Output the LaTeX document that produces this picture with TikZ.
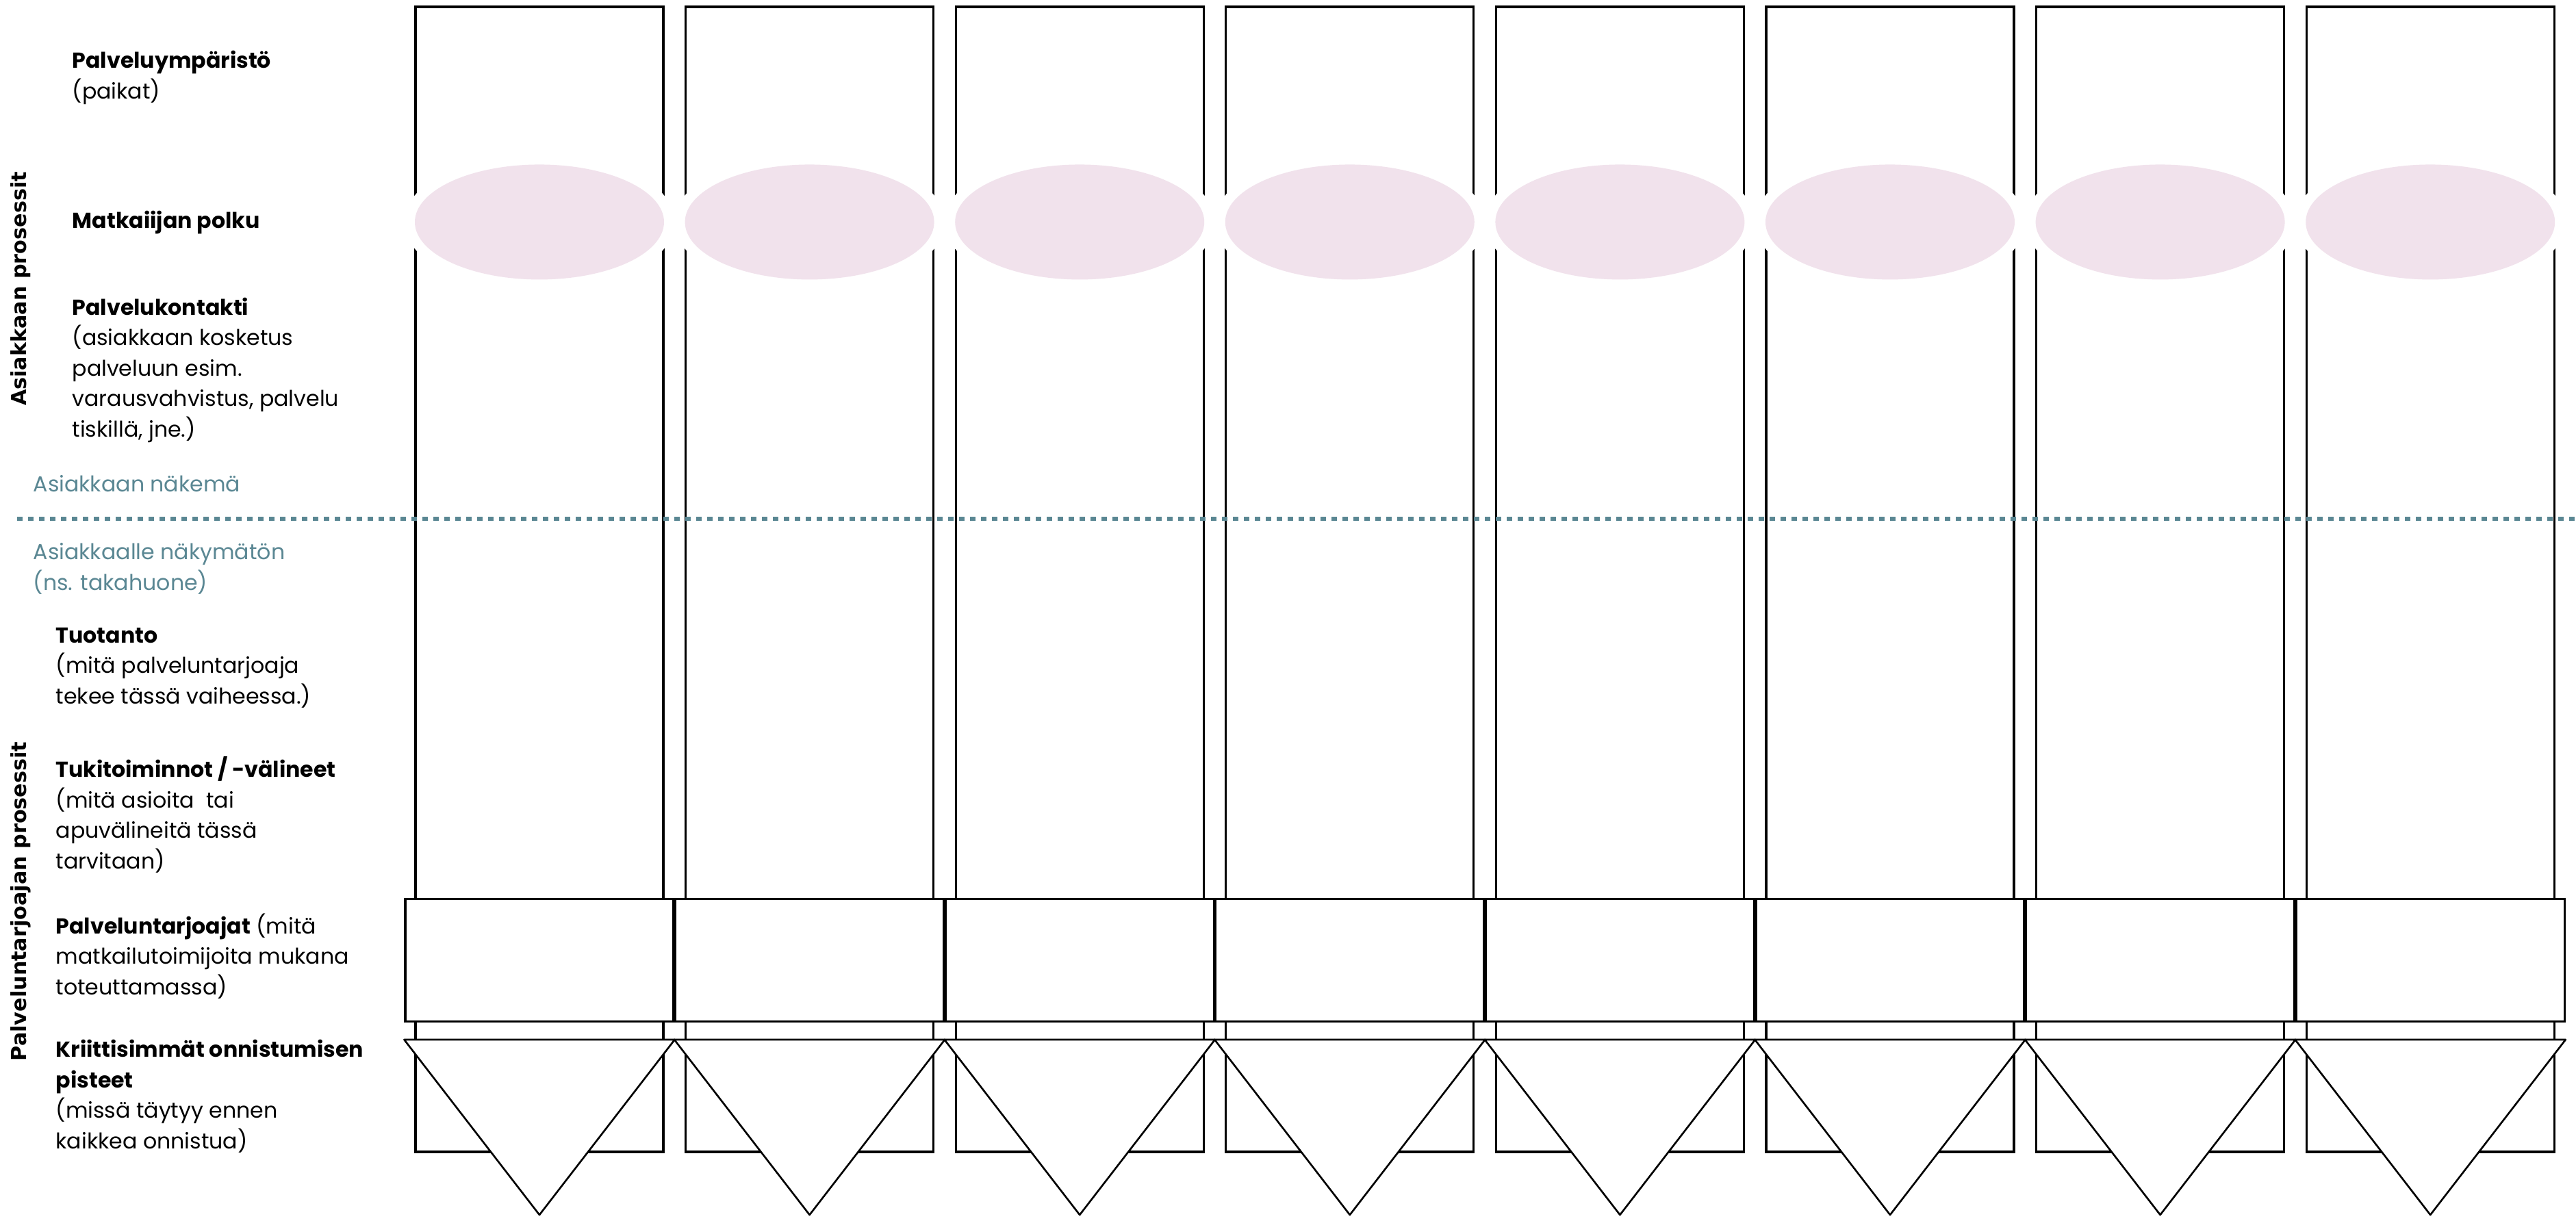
\documentclass[tikz,border=0pt]{standalone}
\usepackage{fontspec}
\setmainfont{Poppins}
\newfontfamily\sidefont{DejaVu Sans}
\usetikzlibrary{shapes.geometric,positioning}
\definecolor{journeypink}{HTML}{F1E2EC}
\definecolor{lineteal}{HTML}{5A8793}

\begin{document}
\begin{tikzpicture}[
    lane/.style={draw=black, line width=0.9pt, minimum width=3.62cm, minimum height=16.73cm, inner sep=0pt},
    journey/.style={ellipse, fill=journeypink, preaction={draw=white, line width=3mm}, minimum width=3.64cm, minimum height=1.68cm, inner sep=0pt},
    providerbox/.style={draw=black, fill=white, line width=0.9pt, minimum width=3.92cm, minimum height=1.79cm, inner sep=0pt},
    critpoint/.style={draw=black, fill=white, line width=0.75pt, line join=round},
    rowlabel/.style={anchor=base west, align=left, inner sep=0pt, font=\fontsize{9}{12.65}\selectfont},
    seenlabel/.style={rowlabel, text=lineteal},
    sidelabel/.style={rotate=90, anchor=base, inner sep=0pt, font=\fontsize{8.6}{10}\selectfont\sidefont\bfseries},
    lineofsight/.style={lineteal, line width=0.06cm, dash pattern=on 0.08cm off 0.08cm}
]
\useasboundingbox (0,0) rectangle (37.63,-17.83);

% Vertical lanes, one per step of the journey
\foreach \i in {1,...,8} {
    \node[lane] (lane\i) at ({7.88+3.946*(\i-1)}, -8.465) {};
}

% Line of visibility
\coordinate (sightL) at (0.25,-7.58);
\coordinate (sightR) at (37.63,-7.58);
\draw[lineofsight] (sightL) -- (sightR);

% Journey ellipses, provider boxes and critical points
\foreach \i in {1,...,8} {
    \node[journey] (step\i) at ([yshift=-3.16cm]lane\i.north) {};
    \node[providerbox] (prov\i) at ([yshift=-13.945cm]lane\i.north) {};
    \draw[critpoint] ([yshift=-0.25cm]prov\i.south west) -- ([yshift=-0.25cm]prov\i.south east)
        -- ([yshift=-2.81cm]prov\i.south) -- cycle;
}

% Side titles
\node[sidelabel] (custproc) at (0.38,-4.22) {Asiakkaan prosessit};
\node[sidelabel] (provproc) at (0.38,-13.17) {Palveluntarjoajan prosessit};

% Row labels (placed at the baseline of their last line)
\node[rowlabel] (envlbl) at (1.05,-1.44) {\textbf{Palveluympäristö}\\(paikat)};
\node[rowlabel] (pathlbl) at (1.05,-3.33) {\textbf{Matkaiijan polku}};
\node[rowlabel] (contactlbl) at (1.05,-6.38)
    {\textbf{Palvelukontakti}\\(asiakkaan kosketus\\palveluun esim.\\varausvahvistus, palvelu\\tiskillä, jne.)};
\node[seenlabel] (seenlbl) at (0.48,-7.18) {Asiakkaan näkemä};
\node[seenlabel] (unseenlbl) at (0.48,-8.62) {Asiakkaalle näkymätön\\(ns. takahuone)};
\node[rowlabel] (prodlbl) at (0.81,-10.28) {\textbf{Tuotanto}\\(mitä palveluntarjoaja\\tekee tässä vaiheessa.)};
\node[rowlabel] (supportlbl) at (0.81,-12.69)
    {\textbf{Tukitoiminnot / -välineet}\\(mitä asioita\ \ tai\\apuvälineitä tässä\\tarvitaan)};
\node[rowlabel] (provlbl) at (0.81,-14.53)
    {\textbf{Palveluntarjoajat} (mitä\\matkailutoimijoita mukana\\toteuttamassa)};
\node[rowlabel] (critlbl) at (0.81,-16.78)
    {\textbf{Kriittisimmät onnistumisen}\\\textbf{pisteet}\\(missä täytyy ennen\\kaikkea onnistua)};

\end{tikzpicture}
\end{document}
